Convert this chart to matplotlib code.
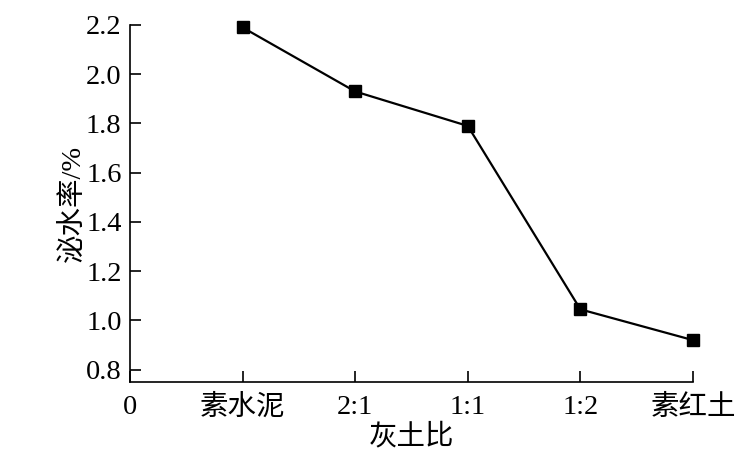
import matplotlib
matplotlib.use("Agg")
import matplotlib.pyplot as plt

categories = ['素水泥', '2:1', '1:1', '1:2', '素红土']
x_pos = [1, 2, 3, 4, 5]
bleeding = [2.19, 1.93, 1.79, 1.045, 0.92]
y_ticks = [0.8, 1.0, 1.2, 1.4, 1.6, 1.8, 2.0, 2.2]

plt.rcParams['font.family'] = ['Liberation Serif', 'Noto Sans CJK SC']
plt.rcParams['font.size'] = 20.5

fig = plt.figure(figsize=(7.53, 4.62), dpi=100)
ax = fig.add_axes([130 / 753, 80 / 462, 563 / 753, 357 / 462])

ax.plot(x_pos, bleeding, color='black', linewidth=1.6, marker='s',
        markersize=9, markerfacecolor='black', markeredgecolor='black',
        clip_on=False)

ax.set_xlim(0, 5)
ax.set_ylim(0.75, 2.2)
ax.set_xticks([0] + x_pos)
ax.set_xticklabels(['0'] + categories)
ax.set_yticks(y_ticks)
ax.set_yticklabels([f'{v:.1f}' for v in y_ticks])

ax.spines['top'].set_visible(False)
ax.spines['right'].set_visible(False)
for s in ('left', 'bottom'):
    ax.spines[s].set_linewidth(1.2)
ax.tick_params(direction='in', length=8, width=1.2)
ax.tick_params(axis='x', pad=9)
ax.tick_params(axis='y', pad=6)

ax.set_xlabel('灰土比', labelpad=2)
ax.set_ylabel('泌水率/%', labelpad=0)

fig.savefig('out.png', dpi=100)
